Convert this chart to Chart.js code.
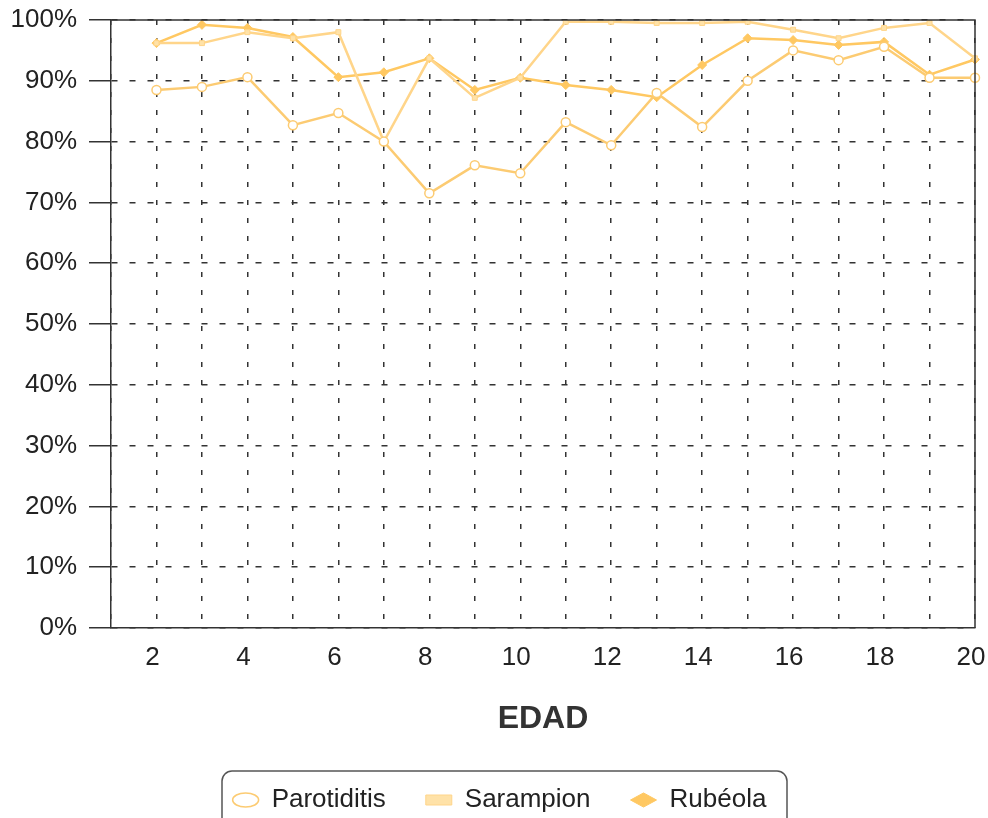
<!DOCTYPE html>
<html>
<head>
<meta charset="utf-8">
<script src="https://cdn.jsdelivr.net/npm/chart.js@4/dist/chart.umd.min.js"></script>
<style>
  html, body { margin: 0; padding: 0; background: #ffffff; }
  #wrap { width: 988px; height: 818px; position: relative; }
</style>
</head>
<body>
<div id="wrap"><canvas id="c" width="988" height="818"></canvas></div>
<script>
// ---- data ----
const edad = [1, 2, 3, 4, 5, 6, 7, 8, 9, 10, 11, 12, 13, 14, 15, 16, 17, 18, 19, 20];
const parotiditis = [null, 88.5, 89.0, 90.6, 82.7, 84.7, 80.0, 71.5, 76.1, 74.8, 83.2, 79.4, 88.0, 82.4, 90.0, 95.0, 93.4, 95.6, 90.5, 90.5];
const sarampion   = [null, 96.2, 96.2, 98.0, 97.0, 98.0, 80.0, 93.7, 87.2, 90.5, 99.7, 99.7, 99.5, 99.5, 99.7, 98.4, 97.0, 98.7, 99.5, 93.7];
const rubeola     = [null, 96.2, 99.2, 98.7, 97.2, 90.6, 91.4, 93.7, 88.5, 90.5, 89.3, 88.5, 87.3, 92.6, 97.0, 96.7, 95.9, 96.4, 91.0, 93.5];
const yTicks = [0, 10, 20, 30, 40, 50, 60, 70, 80, 90, 100];

const FONT = "'Liberation Sans', Arial, Helvetica, sans-serif";

const frame = {
  id: 'frame',
  afterLayout(chart) {
    const lg = chart.legend;
    if (lg) { lg.left += 12; lg.right += 12; }
  },
  afterDatasetsDraw(chart) {
    const a = chart.chartArea, ctx = chart.ctx;
    ctx.save();
    ctx.strokeStyle = '#333333';
    ctx.lineWidth = 1.5;
    ctx.beginPath();
    ctx.moveTo(a.left, a.top); ctx.lineTo(a.right, a.top); ctx.lineTo(a.right, a.bottom);
    ctx.stroke();
    ctx.restore();
  },
  afterDraw(chart) {
    const ctx = chart.ctx;
    ctx.save();
    ctx.strokeStyle = '#555555';
    ctx.lineWidth = 1.5;
    ctx.beginPath();
    ctx.roundRect(222, 771, 565, 60, 10);
    ctx.stroke();
    ctx.restore();
  }
};

new Chart(document.getElementById('c'), {
  type: 'line',
  data: {
    labels: edad,
    datasets: [
      { label: 'Parotiditis', data: parotiditis, borderColor: '#FCCB72', backgroundColor: '#FFFFFF',
        pointStyle: 'circle', pointRadius: 4.5, pointBorderWidth: 1.5, pointBorderColor: '#FCCB72', borderWidth: 2.5 },
      { label: 'Sarampion', data: sarampion, borderColor: '#FFD58A', backgroundColor: '#FFE2A8',
        pointStyle: 'rect', pointRadius: 3.5, pointBorderWidth: 1, pointBorderColor: '#FFD58A', borderWidth: 2.5 },
      { label: 'Rubéola', data: rubeola, borderColor: '#FFC862', backgroundColor: '#FFC862',
        pointStyle: 'rectRot', pointRadius: 4.5, pointBorderWidth: 1, pointBorderColor: '#FFC862', borderWidth: 2.5 }
    ]
  },
  options: {
    responsive: false,
    animation: false,
    spanGaps: false,
    layout: { padding: { top: 20, right: 13, left: 0, bottom: -5 } },
    plugins: {
      tooltip: { enabled: false },
      legend: {
        position: 'bottom',
        labels: {
          usePointStyle: true,
          pointStyleWidth: 26,
          boxHeight: 10,
          padding: 40,
          color: '#222222',
          font: { family: FONT, size: 26 }
        }
      }
    },
    scales: {
      x: {
        type: 'category',
        offset: false,
        afterFit(s) { s.height = 119; s.paddingLeft = 0; s.paddingRight = 0; },
        grid: { display: true, drawTicks: false, color: '#333333', lineWidth: 1.5, offset: false },
        border: { display: true, color: '#333333', width: 1.5, dash: [5, 13] },
        ticks: {
          autoSkip: false, maxRotation: 0, padding: 14, labelOffset: -4, color: '#222222',
          font: { family: FONT, size: 26 },
          callback(v, i) { const e = edad[i]; return e % 2 === 0 ? String(e) : ''; }
        },
        title: { display: true, text: 'EDAD', color: '#333333',
          font: { family: FONT, size: 32, weight: 'bold' }, padding: { top: 20, bottom: 9 } }
      },
      y: {
        type: 'linear',
        min: 0, max: 100,
        afterFit(s) { s.width = 111; s.paddingTop = 0; s.paddingBottom = 0; },
        afterBuildTicks(s) { s.ticks = yTicks.map(v => ({ value: v })); },
        grid: { display: true, drawTicks: true, tickLength: 22, color: '#333333', lineWidth: 1.5,
          tickColor: '#333333', tickWidth: 1.5, tickBorderDash: [] },
        border: { display: true, color: '#333333', width: 1.5, dash: [6, 12] },
        ticks: { padding: 12, color: '#222222', font: { family: FONT, size: 26 },
          callback(v) { return v + '%'; } }
      }
    }
  },
  plugins: [frame]
});
</script>
</body>
</html>
